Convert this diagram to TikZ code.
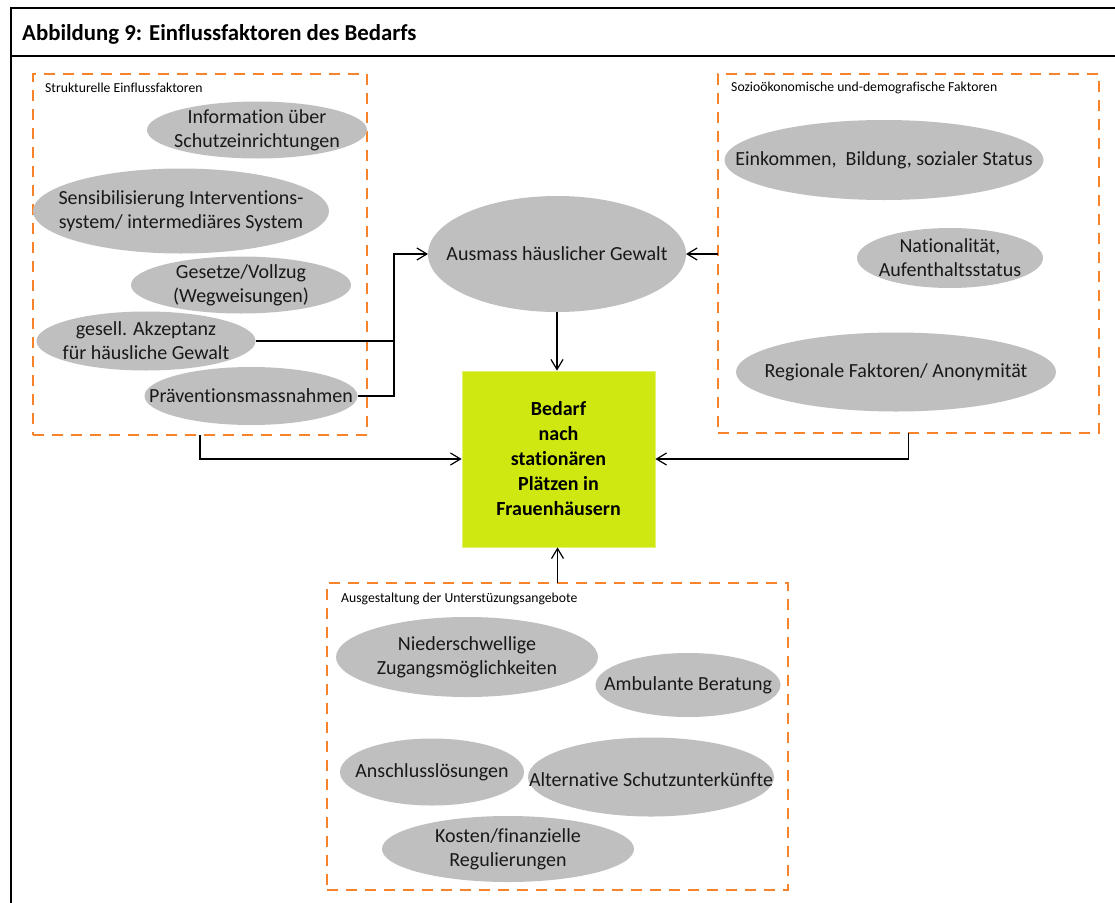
\documentclass[tikz,border=0pt]{standalone}
\usepackage{fontspec}
\setmainfont{Carlito}[Ligatures={NoCommon,NoContextual}]
\usetikzlibrary{shapes.geometric,arrows.meta,calc}
\definecolor{ellgray}{RGB}{191,191,191}
\definecolor{dorange}{RGB}{247,131,42}
\definecolor{lime}{RGB}{208,232,17}
\begin{document}
\begin{tikzpicture}[x=1pt,y=-1pt,
  ell/.style={ellipse, fill=ellgray, draw=none, inner sep=0pt, outer sep=0pt},
  etext/.style={align=center, inner sep=0pt, font=\fontsize{20}{24}\selectfont, text=black!90},
  dbox/.style={rectangle, draw=dorange, line width=2.7pt, dash pattern=on 11pt off 8pt, inner sep=0pt, outer sep=0pt},
  boxlabel/.style={anchor=west, inner sep=0pt, font=\fontsize{13.7}{15}\selectfont},
  arr/.style={line width=1.2pt, -{Straight Barb[length=10pt,width=12pt]}},
  conn/.style={line width=1.2pt}]
\useasboundingbox (0,0) rectangle (1115,902);
\fill[white] (0,0) rectangle (1115,902);
% outer frame
\draw[line width=2pt] (1120,7.5) -- (10.5,7.5) -- (10.5,910);
\draw[line width=2pt] (10.5,56) -- (1120,56);
\node[anchor=west, inner sep=0pt, font=\fontsize{22.8}{26}\selectfont\bfseries] (title) at (22,34) {Abbildung 9: Einflussfaktoren des Bedarfs};

% dashed boxes
\node[dbox, minimum width=334pt, minimum height=361pt] (lbox) at (200,254.5) {};
\node[dbox, minimum width=381pt, minimum height=359pt] (rbox) at (908.5,253.5) {};
\node[dbox, minimum width=461pt, minimum height=307pt] (bbox) at (557.5,736.5) {};
\node[boxlabel] (llab) at (45,88) {Strukturelle Einflussfaktoren};
\node[boxlabel] (rlab) at (731,88) {Sozioökonomische und-demografische Faktoren};
\node[boxlabel] (blab) at (341,599) {Ausgestaltung der Unterstüzungsangebote};

% left ellipses
\node[ell, minimum width=220pt, minimum height=57pt, label={[etext]center:Information über\\Schutzeinrichtungen}] (info) at (257,130) {};
\node[ell, minimum width=296pt, minimum height=85pt, label={[etext]center:Sensibilisierung Interventions-\\system/ intermediäres System}] (sens) at (181,211) {};
\node[ell, minimum width=220pt, minimum height=57pt, label={[etext]center:Gesetze/Vollzug\\(Wegweisungen)}] (ges) at (241,285) {};
\node[ell, minimum width=219pt, minimum height=59pt, label={[etext]center:gesell. Akzeptanz\\für häusliche Gewalt}] (akz) at (146,341) {};
\node[ell, minimum width=213pt, minimum height=58pt, label={[etext]center:Präventionsmassnahmen}] (prae) at (251,396) {};

% right ellipses
\node[ell, minimum width=319pt, minimum height=80pt, label={[etext]center:Einkommen,\ \ Bildung, sozialer Status}] (eink) at (884,160) {};
\node[ell, minimum width=186pt, minimum height=60pt, label={[etext]center:Nationalität,\\Aufenthaltsstatus}] (nat) at (950,258) {};
\node[ell, minimum width=320pt, minimum height=79pt, label={[etext]center:Regionale Faktoren/ Anonymität}] (reg) at (896,372) {};

% bottom ellipses
\node[ell, minimum width=262pt, minimum height=80pt, label={[etext]center:Niederschwellige\\Zugangsmöglichkeiten}] (nied) at (467,657) {};
\node[ell, minimum width=185pt, minimum height=64pt, label={[etext]center:Ambulante Beratung}] (amb) at (688,685) {};
\node[ell, minimum width=184pt, minimum height=67pt, label={[etext]center:Anschlusslösungen}] (ansch) at (432,772) {};
\node[ell, minimum width=246pt, minimum height=79pt, label={[etext,yshift=-3pt]center:Alternative Schutzunterkünfte}] (alt) at (651,777) {};
\node[ell, minimum width=252pt, minimum height=66pt, label={[etext]center:Kosten/finanzielle\\Regulierungen}] (kost) at (508,849) {};

% central nodes
\node[ell, minimum width=258pt, minimum height=116pt, label={[etext]center:Ausmass häuslicher Gewalt}] (aus) at (557,254) {};
\node[rectangle, fill=lime, draw=lime!60!white, line width=0.8pt, minimum width=193pt, minimum height=176pt, inner sep=0pt, align=center,
  font=\fontsize{20}{25}\selectfont\bfseries] (gbox) at (558.5,459) {Bedarf\\nach\\stationären\\Plätzen in\\Frauenhäusern};

% connectors
\coordinate (j) at (394,254);
\draw[conn] (akz.east) -- (akz.east -| j);
\draw[arr] (prae.east) -| (j) -- (aus.west);
\draw[arr] (rbox.west |- aus.east) -- (aus.east);
\draw[arr] (aus.south) -- (aus.south |- gbox.north);
\draw[arr] (lbox.south) |- (gbox.west);
\draw[arr] (rbox.south) |- (gbox.east);
\draw[arr] (bbox.north) -- (bbox.north |- gbox.south);
\end{tikzpicture}
\end{document}
